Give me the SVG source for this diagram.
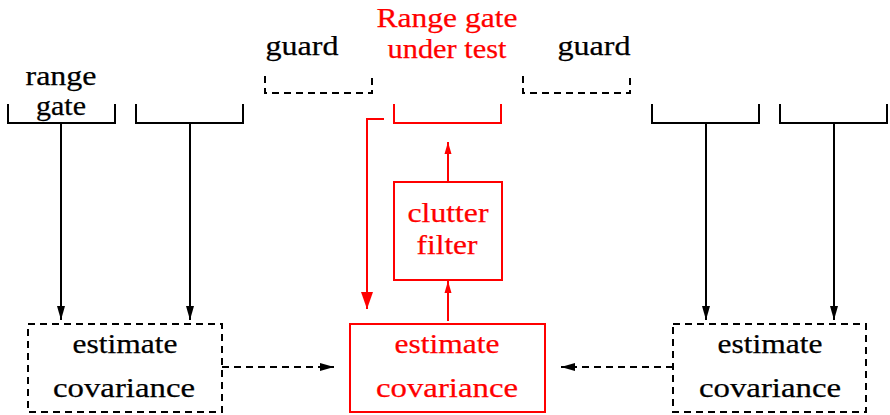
<svg xmlns="http://www.w3.org/2000/svg" width="890" height="415" viewBox="0 0 890 415">
  <style>
    text { font-family: "Liberation Serif", "Times New Roman", serif; font-size: 28px; text-anchor: middle; stroke-width: 0.25; }
    .k { fill: #000; stroke: #000; }
    .r { fill: #ff0000; stroke: #ff0000; }
    .solidk { fill: none; stroke: #000; stroke-width: 2; }
    .dashk { fill: none; stroke: #000; stroke-width: 2; stroke-dasharray: 7 5; }
    .solidr { fill: none; stroke: #ff0000; stroke-width: 2; }
  </style>
  <defs>
    <marker id="ahk" markerUnits="userSpaceOnUse" markerWidth="16" markerHeight="10" refX="14" refY="5" orient="auto">
      <path d="M0,1 L14,5 L0,9 Z" fill="#000"/>
    </marker>
    <marker id="ahr" markerUnits="userSpaceOnUse" markerWidth="14" markerHeight="10" refX="12" refY="5" orient="auto">
      <path d="M0,1.5 L12,5 L0,8.5 Z" fill="#ff0000"/>
    </marker>
    <marker id="ahrbig" markerUnits="userSpaceOnUse" markerWidth="18" markerHeight="14" refX="17" refY="7" orient="auto">
      <path d="M0,1 L17,7 L0,13 Z" fill="#ff0000"/>
    </marker>
  </defs>

  <!-- range gate brackets -->
  <g id="gate1">
    <path class="solidk" d="M8,104 V123 H115 V104"/>
    <text class="k" x="61" y="85" textLength="71" lengthAdjust="spacingAndGlyphs">range</text>
    <text class="k" x="61" y="115" textLength="50" lengthAdjust="spacingAndGlyphs">gate</text>
  </g>
  <g id="gate2">
    <path class="solidk" d="M136,104 V123 H243 V104"/>
  </g>
  <g id="guard-left">
    <path class="dashk" d="M265,76 V93 H372 V76"/>
    <text class="k" x="302" y="55" textLength="73" lengthAdjust="spacingAndGlyphs">guard</text>
  </g>
  <g id="gate-under-test">
    <path class="solidr" d="M394,104 V123 H501 V104"/>
    <text class="r" x="447" y="27" textLength="141" lengthAdjust="spacingAndGlyphs">Range gate</text>
    <text class="r" x="447" y="58" textLength="119" lengthAdjust="spacingAndGlyphs">under test</text>
  </g>
  <g id="guard-right">
    <path class="dashk" d="M523,76 V93 H630 V76"/>
    <text class="k" x="594" y="55" textLength="73" lengthAdjust="spacingAndGlyphs">guard</text>
  </g>
  <g id="gate3">
    <path class="solidk" d="M652,104 V123 H759 V104"/>
  </g>
  <g id="gate4">
    <path class="solidk" d="M780,104 V123 H887 V104"/>
  </g>

  <!-- processing blocks -->
  <g id="clutter-filter">
    <rect class="solidr" x="394" y="182" width="108" height="98"/>
    <text class="r" x="448" y="222" textLength="81" lengthAdjust="spacingAndGlyphs">clutter</text>
    <text class="r" x="447" y="254" textLength="61" lengthAdjust="spacingAndGlyphs">filter</text>
  </g>
  <g id="cov-left">
    <rect class="dashk" x="28" y="324" width="194" height="88"/>
    <text class="k" x="125" y="353" textLength="105" lengthAdjust="spacingAndGlyphs">estimate</text>
    <text class="k" x="124" y="397" textLength="142" lengthAdjust="spacingAndGlyphs">covariance</text>
  </g>
  <g id="cov-center">
    <rect class="solidr" x="350" y="324" width="195" height="88"/>
    <text class="r" x="447" y="353" textLength="105" lengthAdjust="spacingAndGlyphs">estimate</text>
    <text class="r" x="447" y="397" textLength="142" lengthAdjust="spacingAndGlyphs">covariance</text>
  </g>
  <g id="cov-right">
    <rect class="dashk" x="673" y="324" width="193" height="88"/>
    <text class="k" x="770" y="353" textLength="105" lengthAdjust="spacingAndGlyphs">estimate</text>
    <text class="k" x="770" y="397" textLength="142" lengthAdjust="spacingAndGlyphs">covariance</text>
  </g>

  <!-- connectors -->
  <g id="connectors">
    <line class="solidk" x1="61" y1="123" x2="61" y2="320" marker-end="url(#ahk)"/>
    <line class="solidk" x1="190" y1="123" x2="190" y2="320" marker-end="url(#ahk)"/>
    <line class="solidk" x1="706" y1="123" x2="706" y2="320" marker-end="url(#ahk)"/>
    <line class="solidk" x1="834" y1="123" x2="834" y2="320" marker-end="url(#ahk)"/>
    <line class="dashk" x1="222" y1="367" x2="334" y2="367" marker-end="url(#ahk)"/>
    <line class="dashk" x1="673" y1="367" x2="561" y2="367" marker-end="url(#ahk)"/>
    <path class="solidr" d="M384,119 H367 V309" marker-end="url(#ahrbig)"/>
    <line class="solidr" x1="448" y1="182" x2="448" y2="142" marker-end="url(#ahr)"/>
    <line class="solidr" x1="448" y1="321" x2="448" y2="281" marker-end="url(#ahr)"/>
  </g>
</svg>
